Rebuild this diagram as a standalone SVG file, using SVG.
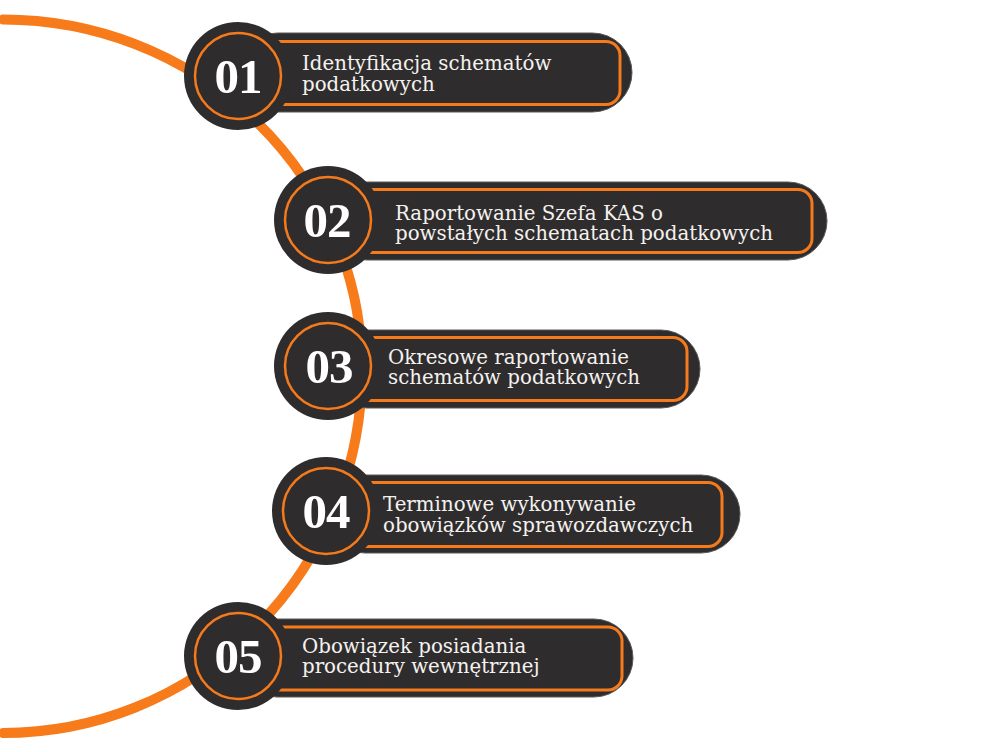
<svg xmlns="http://www.w3.org/2000/svg" width="1000" height="752" viewBox="0 0 1000 752">
  <defs>
    <style>
      .pill { fill: #2f2c2d; stroke: #5a5758; stroke-width: 1; }
      .inner { fill: none; stroke: #f57a1c; stroke-width: 3; }
      .disc { fill: #2f2c2d; }
      .ring { fill: none; stroke: #f57a1c; stroke-width: 2.5; }
      .num { font-family: "Liberation Serif", "DejaVu Serif", serif; font-weight: bold; font-size: 49px; fill: #ffffff; text-anchor: middle; letter-spacing: -1px; }
      .lbl { font-family: "DejaVu Serif", "Liberation Serif", serif; font-size: 19.8px; fill: #f4f2ef; }
      .arc { fill: none; stroke: #f77b1b; stroke-width: 10; stroke-linecap: round; }
    </style>
  </defs>
  <rect width="1000" height="752" fill="#ffffff"/>
  <g id="connectors">
    <path class="arc" d="M 3 19.5 A 359 350.5 0 0 1 362 370 A 359 363 0 0 1 3 733"/>
  </g>
  <g id="node-01">
    <rect class="pill" x="238" y="33" width="394" height="79" rx="39.5"/>
    <rect class="inner" x="238" y="41.5" width="382" height="63" rx="14"/>
    <circle class="disc" cx="238" cy="76" r="54"/>
    <circle class="ring" cx="238" cy="76" r="43"/>
    <text class="num" x="238" y="93">01</text>
    <text class="lbl" x="302" y="70">Identyfikacja schematów</text>
    <text class="lbl" x="302" y="90.5">podatkowych</text>
  </g>
  <g id="node-02">
    <rect class="pill" x="328" y="182" width="499" height="78" rx="39"/>
    <rect class="inner" x="328" y="189.5" width="484" height="63" rx="14"/>
    <circle class="disc" cx="328" cy="220" r="54"/>
    <circle class="ring" cx="328" cy="220" r="43"/>
    <text class="num" x="327" y="237">02</text>
    <text class="lbl" x="395" y="219.5">Raportowanie Szefa KAS o</text>
    <text class="lbl" x="395" y="240">powstałych schematach podatkowych</text>
  </g>
  <g id="node-03">
    <rect class="pill" x="328" y="330" width="372" height="78" rx="39"/>
    <rect class="inner" x="328" y="337.5" width="359" height="63" rx="14"/>
    <circle class="disc" cx="328" cy="366" r="54"/>
    <circle class="ring" cx="328" cy="366" r="43"/>
    <text class="num" x="329" y="383">03</text>
    <text class="lbl" x="388" y="363.5">Okresowe raportowanie</text>
    <text class="lbl" x="388" y="384">schematów podatkowych</text>
  </g>
  <g id="node-04">
    <rect class="pill" x="326" y="475" width="414" height="78" rx="39"/>
    <rect class="inner" x="326" y="482.5" width="396" height="64" rx="14"/>
    <circle class="disc" cx="326" cy="511" r="54"/>
    <circle class="ring" cx="326" cy="511" r="43"/>
    <text class="num" x="326" y="528">04</text>
    <text class="lbl" x="383" y="511">Terminowe wykonywanie</text>
    <text class="lbl" x="383" y="531.5">obowiązków sprawozdawczych</text>
  </g>
  <g id="node-05">
    <rect class="pill" x="238" y="619" width="395" height="78" rx="39"/>
    <rect class="inner" x="238" y="627" width="384" height="63" rx="14"/>
    <circle class="disc" cx="238" cy="656" r="54"/>
    <circle class="ring" cx="238" cy="656" r="43"/>
    <text class="num" x="238" y="673">05</text>
    <text class="lbl" x="302" y="652.5">Obowiązek posiadania</text>
    <text class="lbl" x="302" y="673">procedury wewnętrznej</text>
  </g>
</svg>
